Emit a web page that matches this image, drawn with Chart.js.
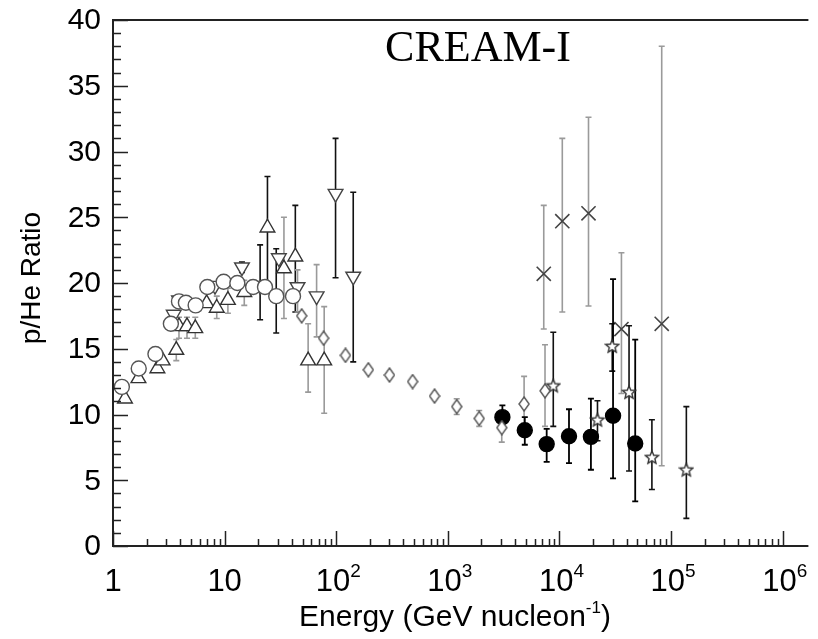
<!DOCTYPE html>
<html>
<head>
<meta charset="utf-8">
<script src="https://cdn.jsdelivr.net/npm/chart.js@4.4.1/dist/chart.umd.min.js"></script>
<style>
    html, body { margin: 0; padding: 0; background: #fff; overflow: hidden; }
    #wrap { width: 818px; height: 639px; }
</style>
</head>
<body>
<div id="wrap"><canvas id="ratioCtx" width="818" height="639"></canvas></div>
<script>
// values (energy in GeV/nucleon, p/He ratio)
const circleE = [1.2, 1.7, 2.4, 3.3, 3.9, 4.5, 5.5, 7.0, 9.8, 13, 18, 23, 29, 41];
const circleY = [12.1, 13.5, 14.6, 16.9, 18.6, 18.5, 18.3, 19.7, 20.1, 20.0, 19.7, 19.7, 19.0, 19.0];
const circleLo = [null, null, null, null, null, null, null, null, null, null, null, null, 16.2, null];
const circleHi = [null, null, null, null, null, null, null, null, null, null, null, null, 22.6, null];

const upTriE = [1.28, 1.69, 2.5, 2.78, 3.69, 3.9, 4.6, 5.46, 6.9, 8.5, 10.7, 15, 34, 56, 78];
const upTriY = [11.2, 12.75, 13.5, 14.1, 14.9, 16.7, 16.7, 16.55, 18.45, 18.1, 18.7, 19.3, 21.1, 14.1, 14.1];
const upTriLo = [null, null, null, null, 14.1, 15.8, 15.8, 15.8, null, 17.3, 17.7, 18.3, 17.3, 11.7, 10.1];
const upTriHi = [null, null, null, null, 15.7, 17.4, 17.4, 17.4, null, 19.0, 19.6, 20.2, 25.0, 16.9, 18.2];

const upTriBlackE = [24.2, 43];
const upTriBlackY = [24.2, 22.0];
const upTriBlackLo = [20.0, 17.8];
const upTriBlackHi = [28.1, 25.9];

const downTriE = [14.3, 20.8, 30.6, 98.6, 142];
const downTriY = [21.2, 19.8, 21.9, 26.8, 20.5];
const downTriLo = [20.8, 17.2, null, 20.4, 14.0];
const downTriHi = [21.6, 22.9, null, 31.0, 26.9];

const downTriGreyE = [3.5, 3.9, 8.2, 45, 66.7];
const downTriGreyY = [17.6, 18.7, 19.8, 19.7, 19.0];
const downTriGreyLo = [null, null, null, 17.8, 15.9];
const downTriGreyHi = [null, null, null, 21.0, 21.4];

const diamondE = [49, 77, 121, 194, 300, 483, 760, 1200, 1910, 3040, 4820, 7420];
const diamondY = [17.5, 15.8, 14.5, 13.4, 13.0, 12.5, 11.4, 10.6, 9.7, 9.0, 10.8, 11.8];
const diamondLo = [null, null, null, null, null, null, null, 10.0, 9.1, 7.9, 8.6, 9.1];
const diamondHi = [null, null, null, null, null, null, null, 11.2, 10.3, 10.0, 12.9, 15.3];

const crossE = [7230, 10600, 18200, 35900, 82400];
const crossY = [20.7, 24.7, 25.3, 16.5, 16.9];
const crossLo = [16.5, 17.8, 18.25, 11.6, 6.1];
const crossHi = [25.9, 31.0, 32.6, 22.3, 38.0];

const starE = [8800, 21900, 29700, 42000, 67300, 137000];
const starY = [12.2, 9.6, 15.2, 11.7, 6.75, 5.8];
const starLo = [9.1, 8.0, 13.3, 5.7, 4.3, 2.1];
const starHi = [16.25, 11.05, 16.9, 16.75, 9.6, 10.6];

// CREAM-I
const creamE = [3080, 4890, 7680, 12170, 19130, 30200, 47700];
const creamY = [9.8, 8.8, 7.75, 8.35, 8.3, 9.9, 7.8];
const creamLo = [8.95, 7.7, 6.4, 6.3, 5.8, 5.15, 3.4];
const creamHi = [10.7, 9.8, 8.9, 10.4, 11.2, 20.3, 15.7];

const yTicks = [0, 5, 10, 15, 20, 25, 30, 35, 40];
const xDecades = [0, 1, 2, 3, 4, 5, 6];

const X_MIN = 1;
const X_MAX = 1.63e6;

const ratioCtx = document.getElementById('ratioCtx');

function points(xs, ys) {
    return xs.map((x, i) => ({ x: x, y: ys[i] }));
}

function makeStar(size, stroke) {
    const c = document.createElement('canvas');
    c.width = size; c.height = size;
    const g = c.getContext('2d');
    const cx = size / 2, cy = size / 2 + 0.5;
    const R = size / 2 - 1.2, r = R * 0.45;
    g.beginPath();
    for (let i = 0; i < 10; i++) {
        const a = -Math.PI / 2 + i * Math.PI / 5;
        const rr = i % 2 ? r : R;
        g.lineTo(cx + rr * Math.cos(a), cy + rr * Math.sin(a));
    }
    g.closePath();
    g.fillStyle = '#fff';
    g.fill();
    g.strokeStyle = stroke;
    g.lineWidth = 1.4;
    g.stroke();
    return c;
}

function makeDiamond(w, h, stroke) {
    const c = document.createElement('canvas');
    c.width = w; c.height = h;
    const g = c.getContext('2d');
    g.beginPath();
    g.moveTo(w / 2, 1);
    g.lineTo(w - 1, h / 2);
    g.lineTo(w / 2, h - 1);
    g.lineTo(1, h / 2);
    g.closePath();
    g.fillStyle = '#fff';
    g.fill();
    g.strokeStyle = stroke;
    g.lineWidth = 1.4;
    g.stroke();
    return c;
}

function dataset(label, xs, ys, lo, hi, style) {
    return Object.assign({
        label: label,
        data: points(xs, ys),
        errLo: lo,
        errHi: hi,
        showLine: false,
        pointBackgroundColor: '#fff',
        pointBorderColor: '#444',
        pointBorderWidth: 1.4,
        pointRadius: 7
    }, style);
}

// vertical error bars with small caps, under the markers
const errorBarPlugin = {
    id: 'errorBars',
    beforeDatasetsDraw(chart) {
        const ctx = chart.ctx;
        const xs = chart.scales.x, ys = chart.scales.y;
        ctx.save();
        chart.data.datasets.forEach(ds => {
            if (!ds.errLo) return;
            ctx.strokeStyle = ds.errColor || '#111';
            ctx.lineWidth = ds.errWidth || 1.6;
            ds.data.forEach((p, i) => {
                if (ds.errLo[i] == null) return;
                const px = xs.getPixelForValue(p.x);
                const top = ys.getPixelForValue(ds.errHi[i]);
                const bot = ys.getPixelForValue(ds.errLo[i]);
                ctx.beginPath();
                ctx.moveTo(px, top); ctx.lineTo(px, bot);
                ctx.moveTo(px - 3, top); ctx.lineTo(px + 3, top);
                ctx.moveTo(px - 3, bot); ctx.lineTo(px + 3, bot);
                ctx.stroke();
            });
        });
        ctx.restore();
    }
};

// frame, inward ticks and all axis text
const axesPlugin = {
    id: 'axes',
    afterDraw(chart) {
        const ctx = chart.ctx;
        const a = chart.chartArea;
        const xs = chart.scales.x, ys = chart.scales.y;
        ctx.save();
        ctx.strokeStyle = '#222';
        ctx.lineWidth = 2;
        ctx.beginPath();
        ctx.moveTo(a.right + 2, a.top); ctx.lineTo(a.left, a.top);
        ctx.lineTo(a.left, a.bottom); ctx.lineTo(a.right + 2, a.bottom);
        ctx.stroke();

        ctx.lineWidth = 1.5;
        ctx.beginPath();
        for (let v = 0; v <= 40; v++) {
            const py = Math.round(ys.getPixelForValue(v)) + 0.5;
            const len = v % 5 === 0 ? 15 : 8;
            ctx.moveTo(a.left, py); ctx.lineTo(a.left + len, py);
        }
        xDecades.forEach(d => {
            for (let m = 1; m <= 9; m++) {
                const v = m * Math.pow(10, d);
                if (v > X_MAX) break;
                const px = Math.round(xs.getPixelForValue(v)) + 0.5;
                const len = m === 1 ? 15 : 7;
                ctx.moveTo(px, a.bottom); ctx.lineTo(px, a.bottom - len);
            }
        });
        ctx.stroke();

        ctx.fillStyle = '#000';
        ctx.font = '30px "Liberation Sans", Arial, sans-serif';
        ctx.textAlign = 'right';
        ctx.textBaseline = 'middle';
        yTicks.forEach(v => {
            ctx.fillText(String(v), 101, ys.getPixelForValue(v) + 1);
        });

        ctx.textBaseline = 'alphabetic';
        xDecades.forEach(d => {
            const px = xs.getPixelForValue(Math.pow(10, d));
            const base = 591;
            ctx.font = '31px "Liberation Sans", Arial, sans-serif';
            if (d === 0) {
                ctx.textAlign = 'center';
                ctx.fillText('1', px, base);
                return;
            }
            if (d === 1) {
                ctx.textAlign = 'center';
                ctx.fillText('10', px, base);
                return;
            }
            const main = '10', sup = String(d);
            const w1 = ctx.measureText(main).width;
            ctx.font = '19px "Liberation Sans", Arial, sans-serif';
            const w2 = ctx.measureText(sup).width;
            const left = px - (w1 + w2) / 2 + 2;
            ctx.textAlign = 'left';
            ctx.fillText(sup, left + w1, base - 14);
            ctx.font = '31px "Liberation Sans", Arial, sans-serif';
            ctx.fillText(main, left, base);
        });

        // x title with superscript -1
        const t1 = 'Energy (GeV nucleon', t2 = '-1', t3 = ')';
        ctx.font = '30px "Liberation Sans", Arial, sans-serif';
        const w1 = ctx.measureText(t1).width, w3 = ctx.measureText(t3).width;
        ctx.font = '17px "Liberation Sans", Arial, sans-serif';
        const w2 = ctx.measureText(t2).width;
        let tx = 455 - (w1 + w2 + w3) / 2;
        const tb = 626;
        ctx.textAlign = 'left';
        ctx.font = '30px "Liberation Sans", Arial, sans-serif';
        ctx.fillText(t1, tx, tb);
        ctx.font = '17px "Liberation Sans", Arial, sans-serif';
        ctx.fillText(t2, tx + w1, tb - 13);
        ctx.font = '30px "Liberation Sans", Arial, sans-serif';
        ctx.fillText(t3, tx + w1 + w2, tb);

        // y title
        ctx.save();
        ctx.translate(40, 278);
        ctx.rotate(-Math.PI / 2);
        ctx.textAlign = 'center';
        ctx.textBaseline = 'alphabetic';
        ctx.font = '28px "Liberation Sans", Arial, sans-serif';
        ctx.fillText('p/He Ratio', 0, 0);
        ctx.restore();

        // label inside the frame
        ctx.font = '44px "Liberation Serif", "Times New Roman", serif';
        ctx.textAlign = 'center';
        ctx.fillText('CREAM-I', 478, 61);
        ctx.restore();
    }
};

function buildChart() {
    const starStyle = makeStar(16, '#333');
    const diamondStyle = makeDiamond(12, 16, '#555');

    return new Chart(ratioCtx, {
        type: 'scatter',
        data: {
            datasets: [
                dataset('circles', circleE, circleY, circleLo, circleHi, { pointStyle: 'circle', pointRadius: 7.5, pointBorderColor: '#555', errColor: '#111' }),
                dataset('up triangles', upTriE, upTriY, upTriLo, upTriHi, { pointStyle: 'triangle', pointRadius: 8.5, pointBorderColor: '#333', errColor: '#9a9a9a' }),
                dataset('up triangles b', upTriBlackE, upTriBlackY, upTriBlackLo, upTriBlackHi, { pointStyle: 'triangle', pointRadius: 8.5, pointBorderColor: '#333', errColor: '#111' }),
                dataset('down triangles grey', downTriGreyE, downTriGreyY, downTriGreyLo, downTriGreyHi, { pointStyle: 'triangle', pointRotation: 180, pointRadius: 8.5, pointBorderColor: '#444', errColor: '#9a9a9a' }),
                dataset('down triangles', downTriE, downTriY, downTriLo, downTriHi, { pointStyle: 'triangle', pointRotation: 180, pointRadius: 8.5, pointBorderColor: '#444', errColor: '#111' }),
                dataset('diamonds', diamondE, diamondY, diamondLo, diamondHi, { pointStyle: diamondStyle, pointRadius: 6, errColor: '#9a9a9a' }),
                dataset('crosses', crossE, crossY, crossLo, crossHi, { pointStyle: 'crossRot', pointRadius: 10, pointBorderColor: '#444', pointBorderWidth: 1.6, errColor: '#9a9a9a' }),
                dataset('stars', starE, starY, starLo, starHi, { pointStyle: starStyle, pointRadius: 6, errColor: '#111' }),
                dataset('CREAM-I', creamE, creamY, creamLo, creamHi, { pointStyle: 'circle', pointRadius: 7.5, pointBackgroundColor: '#000', pointBorderColor: '#000', errColor: '#000', errWidth: 1.8 })
            ]
        },
        options: {
            responsive: false,
            animation: false,
            layout: { padding: { left: 113, top: 20, right: 0, bottom: 93 } },
            plugins: {
                legend: { display: false },
                tooltip: { enabled: false }
            },
            scales: {
                x: { type: 'logarithmic', min: X_MIN, max: X_MAX, display: false },
                y: { type: 'linear', min: 0, max: 40, display: false }
            }
        },
        plugins: [errorBarPlugin, axesPlugin]
    });
}

buildChart();
</script>
</body>
</html>
